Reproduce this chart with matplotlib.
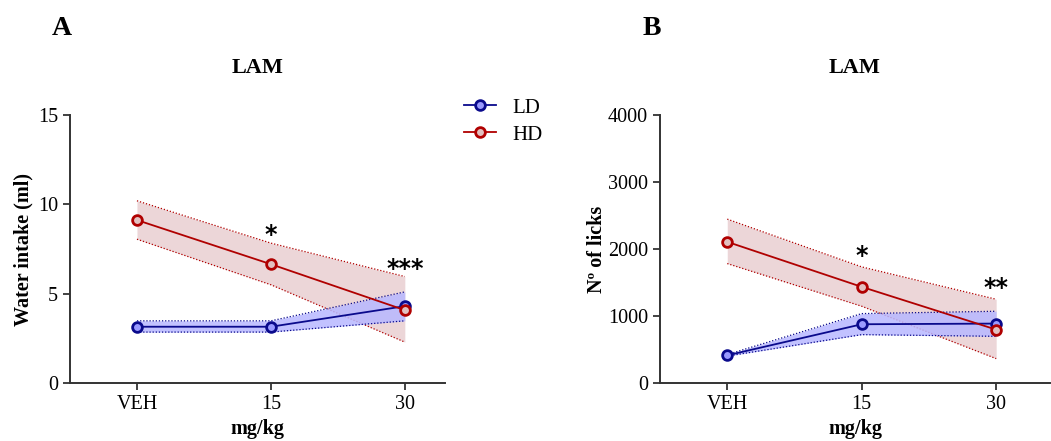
import matplotlib
matplotlib.use("Agg")
import matplotlib.pyplot as plt
from matplotlib.lines import Line2D

plt.rcParams["font.family"] = ["Liberation Serif", "DejaVu Serif"]

doses = ["VEH", "15", "30"]

# Panel A: water intake (ml)
water_ld = [3.15, 3.15, 4.3]
water_ld_hi = [3.48, 3.48, 5.1]
water_ld_lo = [2.85, 2.85, 3.48]
water_hd = [9.12, 6.65, 4.08]
water_hd_hi = [10.2, 7.83, 5.96]
water_hd_lo = [8.05, 5.5, 2.29]

# Panel B: number of licks
licks_ld = [413, 877, 887]
licks_ld_hi = [425, 1036, 1071]
licks_ld_lo = [402, 722, 697]
licks_hd = [2107, 1435, 797]
licks_hd_hi = [2446, 1733, 1250]
licks_hd_lo = [1783, 1146, 364]

# significance marks: (dose index, y, text)
water_stars = [(1, 8.3, "*"), (2, 6.4, "***")]
licks_stars = [(1, 1900, "*"), (2, 1420, "**")]

LD_LINE = "#0a0a8c"
LD_FACE = "#9a9aff"
LD_FILL = "#b8b8ff"
HD_LINE = "#b00000"
HD_FACE = "#e2c0c0"
HD_FILL = "#ecd6d8"

fig = plt.figure(figsize=(10.51, 4.41), dpi=100)
ax_a = fig.add_axes([0.0666, 0.1315, 0.3568, 0.6077])
ax_b = fig.add_axes([0.628, 0.1315, 0.371, 0.6077])


def draw(ax, ld, ld_hi, ld_lo, hd, hd_hi, hd_lo, stars):
    x = list(range(len(doses)))
    ax.fill_between(x, hd_lo, hd_hi, color=HD_FILL, lw=0, zorder=1)
    ax.plot(x, hd_hi, ls=(0, (1, 1.5)), color=HD_LINE, lw=0.9, zorder=2)
    ax.plot(x, hd_lo, ls=(0, (1, 1.5)), color=HD_LINE, lw=0.9, zorder=2)
    ax.fill_between(x, ld_lo, ld_hi, color=LD_FILL, alpha=0.85, lw=0, zorder=3)
    ax.plot(x, ld_hi, ls=(0, (1, 1.5)), color=LD_LINE, lw=0.9, zorder=3)
    ax.plot(x, ld_lo, ls=(0, (1, 1.5)), color=LD_LINE, lw=0.9, zorder=3)
    ax.plot(x, ld, color=LD_LINE, lw=1.3, marker="o", ms=7, mew=2,
            mfc=LD_FACE, mec=LD_LINE, zorder=4)
    ax.plot(x, hd, color=HD_LINE, lw=1.3, marker="o", ms=7, mew=2,
            mfc=HD_FACE, mec=HD_LINE, zorder=5)
    for i, y, s in stars:
        ax.text(i, y, s, ha="center", va="center", fontsize=17,
                family="DejaVu Sans", fontweight="bold")
    ax.set_xticks(x)
    ax.set_xticklabels(doses)
    ax.spines["top"].set_visible(False)
    ax.spines["right"].set_visible(False)
    for sp in ("left", "bottom"):
        ax.spines[sp].set_linewidth(1.4)
        ax.spines[sp].set_color("#333333")
    ax.tick_params(direction="out", length=5, width=1.3, labelsize=14.5,
                   color="#333333")
    ax.set_xlabel("mg/kg", fontsize=14.5, fontweight="bold", labelpad=4)
    ax.set_title("LAM", fontsize=16, fontweight="bold", pad=30)


draw(ax_a, water_ld, water_ld_hi, water_ld_lo, water_hd, water_hd_hi,
     water_hd_lo, water_stars)
ax_a.set_xlim(-0.5, 2.3)
ax_a.set_ylim(0, 15)
ax_a.set_yticks([0, 5, 10, 15])
ax_a.set_ylabel("Water intake (ml)", fontsize=14.5, fontweight="bold",
                labelpad=3)

draw(ax_b, licks_ld, licks_ld_hi, licks_ld_lo, licks_hd, licks_hd_hi,
     licks_hd_lo, licks_stars)
ax_b.set_xlim(-0.5, 2.4)
ax_b.set_ylim(0, 4000)
ax_b.set_yticks([0, 1000, 2000, 3000, 4000])
ax_b.set_ylabel("Nº of licks", fontsize=14.5, fontweight="bold", labelpad=1)

handles = [
    Line2D([], [], color=LD_LINE, lw=1.3, marker="o", ms=7, mew=2,
           mfc=LD_FACE, mec=LD_LINE),
    Line2D([], [], color=HD_LINE, lw=1.3, marker="o", ms=7, mew=2,
           mfc=HD_FACE, mec=HD_LINE),
]
fig.legend(handles, ["LD", "HD"], loc="upper left",
           bbox_to_anchor=(0.424, 0.82), frameon=False, fontsize=15,
           handlelength=1.5, labelspacing=0.35)

fig.text(0.059, 0.936, "A", fontsize=20, fontweight="bold", va="center",
         ha="center")
fig.text(0.620, 0.936, "B", fontsize=20, fontweight="bold", va="center",
         ha="center")

fig.savefig("out.png", dpi=100)
